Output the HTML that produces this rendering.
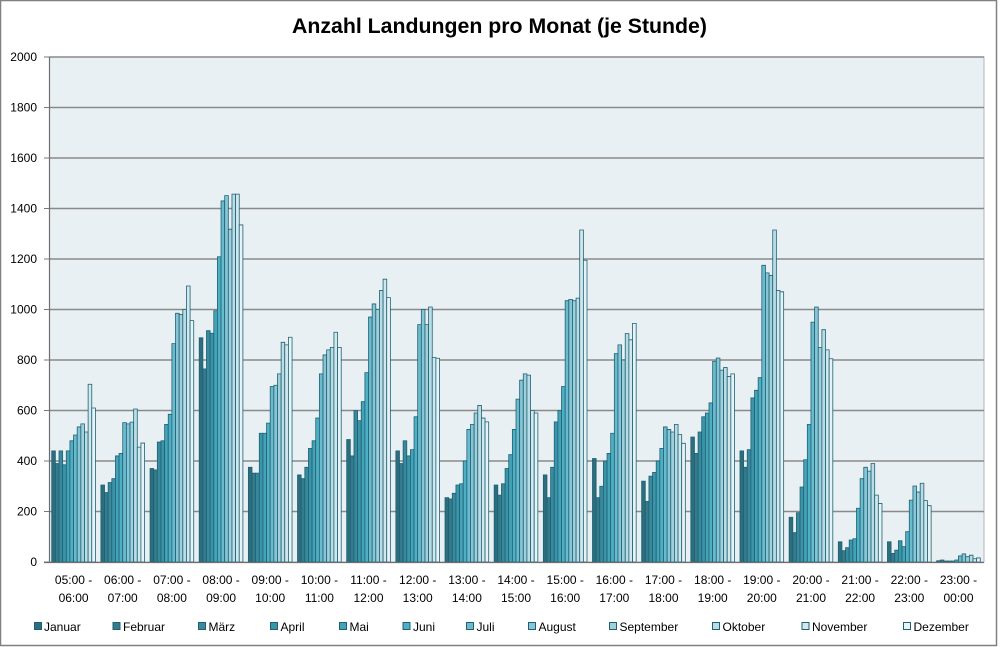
<!DOCTYPE html>
<html><head><meta charset="utf-8"><style>
html,body{margin:0;padding:0;background:#fff;}
svg{display:block;}
.g rect{stroke:#1f6173;stroke-width:0.8;vector-effect:non-scaling-stroke;}
.g rect:nth-child(1){fill:#2d6e7e}
.g rect:nth-child(2){fill:#337b8d}
.g rect:nth-child(3){fill:#3a8a9d}
.g rect:nth-child(4){fill:#3b95aa}
.g rect:nth-child(5){fill:#45a3b8}
.g rect:nth-child(6){fill:#4fb0c5}
.g rect:nth-child(7){fill:#6bbbcf}
.g rect:nth-child(8){fill:#86c6d6}
.g rect:nth-child(9){fill:#a0d0dc}
.g rect:nth-child(10){fill:#b9dce5}
.g rect:nth-child(11){fill:#d0e8ee}
.g rect:nth-child(12){fill:#e6f3f7}
text{font-family:"Liberation Sans",sans-serif;fill:#000;}
.yl{font-size:12px;text-anchor:end;}
.xl{font-size:12px;text-anchor:middle;}
.lg{font-size:12px;}
.ls{stroke:#1f6173;stroke-width:1;}
</style></head><body>
<svg width="1000" height="647" viewBox="0 0 1000 647" xmlns="http://www.w3.org/2000/svg">
<rect x="0.5" y="0.5" width="996" height="645" fill="#fff" stroke="#808080" stroke-width="1.5"/>
<text x="292" y="33" font-size="21" font-weight="bold" textLength="415" lengthAdjust="spacingAndGlyphs">Anzahl Landungen pro Monat (je Stunde)</text>
<rect x="49.5" y="57" width="934.5" height="505" fill="#e9f0f3" stroke="#b4b4b4" stroke-width="1"/>
<g stroke="#8a8a8a" stroke-width="1.5">
<line x1="49.5" x2="984" y1="511.5" y2="511.5"/>
<line x1="49.5" x2="984" y1="461" y2="461"/>
<line x1="49.5" x2="984" y1="410.5" y2="410.5"/>
<line x1="49.5" x2="984" y1="360" y2="360"/>
<line x1="49.5" x2="984" y1="309.5" y2="309.5"/>
<line x1="49.5" x2="984" y1="259" y2="259"/>
<line x1="49.5" x2="984" y1="208.5" y2="208.5"/>
<line x1="49.5" x2="984" y1="158" y2="158"/>
<line x1="49.5" x2="984" y1="107.5" y2="107.5"/>
<line x1="49.5" x2="984" y1="57" y2="57"/>
</g>
<g stroke="#7a7a7a" stroke-width="1">
<line x1="44" x2="49.5" y1="562" y2="562"/><line x1="44" x2="49.5" y1="511.5" y2="511.5"/><line x1="44" x2="49.5" y1="461" y2="461"/><line x1="44" x2="49.5" y1="410.5" y2="410.5"/><line x1="44" x2="49.5" y1="360" y2="360"/><line x1="44" x2="49.5" y1="309.5" y2="309.5"/><line x1="44" x2="49.5" y1="259" y2="259"/><line x1="44" x2="49.5" y1="208.5" y2="208.5"/><line x1="44" x2="49.5" y1="158" y2="158"/><line x1="44" x2="49.5" y1="107.5" y2="107.5"/><line x1="44" x2="49.5" y1="57" y2="57"/>
</g>

<g class="g" transform="translate(51.73,562) scale(1,-0.2525)"><rect x="0" width="3.64" height="440"/><rect x="3.64" width="3.64" height="390"/><rect x="7.28" width="3.64" height="440"/><rect x="10.92" width="3.64" height="385"/><rect x="14.56" width="3.64" height="440"/><rect x="18.2" width="3.64" height="480"/><rect x="21.84" width="3.64" height="503"/><rect x="25.48" width="3.64" height="535"/><rect x="29.12" width="3.64" height="547"/><rect x="32.76" width="3.64" height="515"/><rect x="36.4" width="3.64" height="704"/><rect x="40.04" width="3.64" height="610"/></g>
<g class="g" transform="translate(100.89,562) scale(1,-0.2525)"><rect x="0" width="3.64" height="305"/><rect x="3.64" width="3.64" height="275"/><rect x="7.28" width="3.64" height="315"/><rect x="10.92" width="3.64" height="330"/><rect x="14.56" width="3.64" height="420"/><rect x="18.2" width="3.64" height="430"/><rect x="21.84" width="3.64" height="552"/><rect x="25.48" width="3.64" height="547"/><rect x="29.12" width="3.64" height="554"/><rect x="32.76" width="3.64" height="606"/><rect x="36.4" width="3.64" height="455"/><rect x="40.04" width="3.64" height="471"/></g>
<g class="g" transform="translate(150.05,562) scale(1,-0.2525)"><rect x="0" width="3.64" height="370"/><rect x="3.64" width="3.64" height="365"/><rect x="7.28" width="3.64" height="475"/><rect x="10.92" width="3.64" height="480"/><rect x="14.56" width="3.64" height="545"/><rect x="18.2" width="3.64" height="585"/><rect x="21.84" width="3.64" height="865"/><rect x="25.48" width="3.64" height="985"/><rect x="29.12" width="3.64" height="980"/><rect x="32.76" width="3.64" height="1000"/><rect x="36.4" width="3.64" height="1093"/><rect x="40.04" width="3.64" height="956"/></g>
<g class="g" transform="translate(199.21,562) scale(1,-0.2525)"><rect x="0" width="3.64" height="888"/><rect x="3.64" width="3.64" height="765"/><rect x="7.28" width="3.64" height="916"/><rect x="10.92" width="3.64" height="906"/><rect x="14.56" width="3.64" height="995"/><rect x="18.2" width="3.64" height="1209"/><rect x="21.84" width="3.64" height="1430"/><rect x="25.48" width="3.64" height="1451"/><rect x="29.12" width="3.64" height="1318"/><rect x="32.76" width="3.64" height="1457"/><rect x="36.4" width="3.64" height="1457"/><rect x="40.04" width="3.64" height="1335"/></g>
<g class="g" transform="translate(248.37,562) scale(1,-0.2525)"><rect x="0" width="3.64" height="375"/><rect x="3.64" width="3.64" height="352"/><rect x="7.28" width="3.64" height="352"/><rect x="10.92" width="3.64" height="510"/><rect x="14.56" width="3.64" height="510"/><rect x="18.2" width="3.64" height="550"/><rect x="21.84" width="3.64" height="695"/><rect x="25.48" width="3.64" height="700"/><rect x="29.12" width="3.64" height="745"/><rect x="32.76" width="3.64" height="870"/><rect x="36.4" width="3.64" height="860"/><rect x="40.04" width="3.64" height="890"/></g>
<g class="g" transform="translate(297.53,562) scale(1,-0.2525)"><rect x="0" width="3.64" height="345"/><rect x="3.64" width="3.64" height="330"/><rect x="7.28" width="3.64" height="375"/><rect x="10.92" width="3.64" height="450"/><rect x="14.56" width="3.64" height="480"/><rect x="18.2" width="3.64" height="570"/><rect x="21.84" width="3.64" height="745"/><rect x="25.48" width="3.64" height="820"/><rect x="29.12" width="3.64" height="840"/><rect x="32.76" width="3.64" height="850"/><rect x="36.4" width="3.64" height="910"/><rect x="40.04" width="3.64" height="850"/></g>
<g class="g" transform="translate(346.69,562) scale(1,-0.2525)"><rect x="0" width="3.64" height="485"/><rect x="3.64" width="3.64" height="420"/><rect x="7.28" width="3.64" height="600"/><rect x="10.92" width="3.64" height="560"/><rect x="14.56" width="3.64" height="635"/><rect x="18.2" width="3.64" height="750"/><rect x="21.84" width="3.64" height="970"/><rect x="25.48" width="3.64" height="1022"/><rect x="29.12" width="3.64" height="1000"/><rect x="32.76" width="3.64" height="1075"/><rect x="36.4" width="3.64" height="1120"/><rect x="40.04" width="3.64" height="1047"/></g>
<g class="g" transform="translate(395.85,562) scale(1,-0.2525)"><rect x="0" width="3.64" height="440"/><rect x="3.64" width="3.64" height="390"/><rect x="7.28" width="3.64" height="480"/><rect x="10.92" width="3.64" height="420"/><rect x="14.56" width="3.64" height="445"/><rect x="18.2" width="3.64" height="575"/><rect x="21.84" width="3.64" height="940"/><rect x="25.48" width="3.64" height="1000"/><rect x="29.12" width="3.64" height="940"/><rect x="32.76" width="3.64" height="1010"/><rect x="36.4" width="3.64" height="810"/><rect x="40.04" width="3.64" height="807"/></g>
<g class="g" transform="translate(445.01,562) scale(1,-0.2525)"><rect x="0" width="3.64" height="255"/><rect x="3.64" width="3.64" height="250"/><rect x="7.28" width="3.64" height="272"/><rect x="10.92" width="3.64" height="305"/><rect x="14.56" width="3.64" height="310"/><rect x="18.2" width="3.64" height="400"/><rect x="21.84" width="3.64" height="525"/><rect x="25.48" width="3.64" height="545"/><rect x="29.12" width="3.64" height="590"/><rect x="32.76" width="3.64" height="620"/><rect x="36.4" width="3.64" height="570"/><rect x="40.04" width="3.64" height="555"/></g>
<g class="g" transform="translate(494.17,562) scale(1,-0.2525)"><rect x="0" width="3.64" height="305"/><rect x="3.64" width="3.64" height="265"/><rect x="7.28" width="3.64" height="310"/><rect x="10.92" width="3.64" height="370"/><rect x="14.56" width="3.64" height="425"/><rect x="18.2" width="3.64" height="525"/><rect x="21.84" width="3.64" height="645"/><rect x="25.48" width="3.64" height="720"/><rect x="29.12" width="3.64" height="745"/><rect x="32.76" width="3.64" height="740"/><rect x="36.4" width="3.64" height="600"/><rect x="40.04" width="3.64" height="590"/></g>
<g class="g" transform="translate(543.33,562) scale(1,-0.2525)"><rect x="0" width="3.64" height="345"/><rect x="3.64" width="3.64" height="255"/><rect x="7.28" width="3.64" height="375"/><rect x="10.92" width="3.64" height="555"/><rect x="14.56" width="3.64" height="600"/><rect x="18.2" width="3.64" height="695"/><rect x="21.84" width="3.64" height="1035"/><rect x="25.48" width="3.64" height="1040"/><rect x="29.12" width="3.64" height="1035"/><rect x="32.76" width="3.64" height="1045"/><rect x="36.4" width="3.64" height="1315"/><rect x="40.04" width="3.64" height="1195"/></g>
<g class="g" transform="translate(592.49,562) scale(1,-0.2525)"><rect x="0" width="3.64" height="410"/><rect x="3.64" width="3.64" height="255"/><rect x="7.28" width="3.64" height="300"/><rect x="10.92" width="3.64" height="400"/><rect x="14.56" width="3.64" height="430"/><rect x="18.2" width="3.64" height="510"/><rect x="21.84" width="3.64" height="825"/><rect x="25.48" width="3.64" height="860"/><rect x="29.12" width="3.64" height="800"/><rect x="32.76" width="3.64" height="905"/><rect x="36.4" width="3.64" height="880"/><rect x="40.04" width="3.64" height="945"/></g>
<g class="g" transform="translate(641.65,562) scale(1,-0.2525)"><rect x="0" width="3.64" height="320"/><rect x="3.64" width="3.64" height="240"/><rect x="7.28" width="3.64" height="340"/><rect x="10.92" width="3.64" height="355"/><rect x="14.56" width="3.64" height="400"/><rect x="18.2" width="3.64" height="450"/><rect x="21.84" width="3.64" height="535"/><rect x="25.48" width="3.64" height="525"/><rect x="29.12" width="3.64" height="515"/><rect x="32.76" width="3.64" height="545"/><rect x="36.4" width="3.64" height="505"/><rect x="40.04" width="3.64" height="470"/></g>
<g class="g" transform="translate(690.81,562) scale(1,-0.2525)"><rect x="0" width="3.64" height="495"/><rect x="3.64" width="3.64" height="430"/><rect x="7.28" width="3.64" height="515"/><rect x="10.92" width="3.64" height="575"/><rect x="14.56" width="3.64" height="590"/><rect x="18.2" width="3.64" height="630"/><rect x="21.84" width="3.64" height="795"/><rect x="25.48" width="3.64" height="808"/><rect x="29.12" width="3.64" height="760"/><rect x="32.76" width="3.64" height="770"/><rect x="36.4" width="3.64" height="735"/><rect x="40.04" width="3.64" height="745"/></g>
<g class="g" transform="translate(739.97,562) scale(1,-0.2525)"><rect x="0" width="3.64" height="440"/><rect x="3.64" width="3.64" height="375"/><rect x="7.28" width="3.64" height="445"/><rect x="10.92" width="3.64" height="650"/><rect x="14.56" width="3.64" height="680"/><rect x="18.2" width="3.64" height="730"/><rect x="21.84" width="3.64" height="1175"/><rect x="25.48" width="3.64" height="1145"/><rect x="29.12" width="3.64" height="1135"/><rect x="32.76" width="3.64" height="1315"/><rect x="36.4" width="3.64" height="1075"/><rect x="40.04" width="3.64" height="1070"/></g>
<g class="g" transform="translate(789.13,562) scale(1,-0.2525)"><rect x="0" width="3.64" height="177"/><rect x="3.64" width="3.64" height="116"/><rect x="7.28" width="3.64" height="195"/><rect x="10.92" width="3.64" height="297"/><rect x="14.56" width="3.64" height="405"/><rect x="18.2" width="3.64" height="545"/><rect x="21.84" width="3.64" height="950"/><rect x="25.48" width="3.64" height="1010"/><rect x="29.12" width="3.64" height="850"/><rect x="32.76" width="3.64" height="920"/><rect x="36.4" width="3.64" height="840"/><rect x="40.04" width="3.64" height="805"/></g>
<g class="g" transform="translate(838.29,562) scale(1,-0.2525)"><rect x="0" width="3.64" height="80"/><rect x="3.64" width="3.64" height="45"/><rect x="7.28" width="3.64" height="57"/><rect x="10.92" width="3.64" height="87"/><rect x="14.56" width="3.64" height="92"/><rect x="18.2" width="3.64" height="213"/><rect x="21.84" width="3.64" height="330"/><rect x="25.48" width="3.64" height="375"/><rect x="29.12" width="3.64" height="360"/><rect x="32.76" width="3.64" height="390"/><rect x="36.4" width="3.64" height="265"/><rect x="40.04" width="3.64" height="232"/></g>
<g class="g" transform="translate(887.45,562) scale(1,-0.2525)"><rect x="0" width="3.64" height="80"/><rect x="3.64" width="3.64" height="34"/><rect x="7.28" width="3.64" height="47"/><rect x="10.92" width="3.64" height="84"/><rect x="14.56" width="3.64" height="61"/><rect x="18.2" width="3.64" height="120"/><rect x="21.84" width="3.64" height="245"/><rect x="25.48" width="3.64" height="301"/><rect x="29.12" width="3.64" height="277"/><rect x="32.76" width="3.64" height="312"/><rect x="36.4" width="3.64" height="243"/><rect x="40.04" width="3.64" height="223"/></g>
<g class="g" transform="translate(936.61,562) scale(1,-0.2525)"><rect x="0" width="3.64" height="5"/><rect x="3.64" width="3.64" height="8"/><rect x="7.28" width="3.64" height="4"/><rect x="10.92" width="3.64" height="4"/><rect x="14.56" width="3.64" height="4"/><rect x="18.2" width="3.64" height="8"/><rect x="21.84" width="3.64" height="24"/><rect x="25.48" width="3.64" height="32"/><rect x="29.12" width="3.64" height="21"/><rect x="32.76" width="3.64" height="27"/><rect x="36.4" width="3.64" height="13"/><rect x="40.04" width="3.64" height="16"/></g>

<line x1="49.5" x2="49.5" y1="57" y2="562.5" stroke="#6e6e6e" stroke-width="1.2"/>
<line x1="44" x2="984" y1="562.5" y2="562.5" stroke="#6e6e6e" stroke-width="1.2"/>

<text class="yl" x="37" y="566">0</text>
<text class="yl" x="37" y="515.5">200</text>
<text class="yl" x="37" y="465">400</text>
<text class="yl" x="37" y="414.5">600</text>
<text class="yl" x="37" y="364">800</text>
<text class="yl" x="37" y="313.5">1000</text>
<text class="yl" x="37" y="263">1200</text>
<text class="yl" x="37" y="212.5">1400</text>
<text class="yl" x="37" y="162">1600</text>
<text class="yl" x="37" y="111.5">1800</text>
<text class="yl" x="37" y="61">2000</text>

<g class="xl">
<text x="73.6" y="584">05:00 -</text><text x="73.6" y="602">06:00</text>
<text x="122.7" y="584">06:00 -</text><text x="122.7" y="602">07:00</text>
<text x="171.9" y="584">07:00 -</text><text x="171.9" y="602">08:00</text>
<text x="221.1" y="584">08:00 -</text><text x="221.1" y="602">09:00</text>
<text x="270.2" y="584">09:00 -</text><text x="270.2" y="602">10:00</text>
<text x="319.4" y="584">10:00 -</text><text x="319.4" y="602">11:00</text>
<text x="368.5" y="584">11:00 -</text><text x="368.5" y="602">12:00</text>
<text x="417.7" y="584">12:00 -</text><text x="417.7" y="602">13:00</text>
<text x="466.9" y="584">13:00 -</text><text x="466.9" y="602">14:00</text>
<text x="516.0" y="584">14:00 -</text><text x="516.0" y="602">15:00</text>
<text x="565.2" y="584">15:00 -</text><text x="565.2" y="602">16:00</text>
<text x="614.3" y="584">16:00 -</text><text x="614.3" y="602">17:00</text>
<text x="663.5" y="584">17:00 -</text><text x="663.5" y="602">18:00</text>
<text x="712.7" y="584">18:00 -</text><text x="712.7" y="602">19:00</text>
<text x="761.8" y="584">19:00 -</text><text x="761.8" y="602">20:00</text>
<text x="811.0" y="584">20:00 -</text><text x="811.0" y="602">21:00</text>
<text x="860.1" y="584">21:00 -</text><text x="860.1" y="602">22:00</text>
<text x="909.3" y="584">22:00 -</text><text x="909.3" y="602">23:00</text>
<text x="958.5" y="584">23:00 -</text><text x="958.5" y="602">00:00</text>
</g>

<g class="ls">
<rect x="34.5" y="622.5" width="7" height="7" fill="#2d6e7e"/>
<rect x="113" y="622.5" width="7" height="7" fill="#337b8d"/>
<rect x="198.5" y="622.5" width="7" height="7" fill="#3a8a9d"/>
<rect x="270.5" y="622.5" width="7" height="7" fill="#3b95aa"/>
<rect x="339.5" y="622.5" width="7" height="7" fill="#45a3b8"/>
<rect x="403" y="622.5" width="7" height="7" fill="#4fb0c5"/>
<rect x="466.5" y="622.5" width="7" height="7" fill="#6bbbcf"/>
<rect x="528.5" y="622.5" width="7" height="7" fill="#86c6d6"/>
<rect x="609.5" y="622.5" width="7" height="7" fill="#a0d0dc"/>
<rect x="712.5" y="622.5" width="7" height="7" fill="#b9dce5"/>
<rect x="802" y="622.5" width="7" height="7" fill="#d0e8ee"/>
<rect x="903.5" y="622.5" width="7" height="7" fill="#e6f3f7"/>
</g>
<g class="lg">
<text x="44" y="631">Januar</text>
<text x="123" y="631">Februar</text>
<text x="208.5" y="631">März</text>
<text x="280.5" y="631">April</text>
<text x="349.5" y="631">Mai</text>
<text x="413" y="631">Juni</text>
<text x="476.5" y="631">Juli</text>
<text x="538.5" y="631">August</text>
<text x="619.5" y="631">September</text>
<text x="722.5" y="631">Oktober</text>
<text x="812" y="631">November</text>
<text x="913.5" y="631">Dezember</text>
</g>
</svg>
</body></html>
